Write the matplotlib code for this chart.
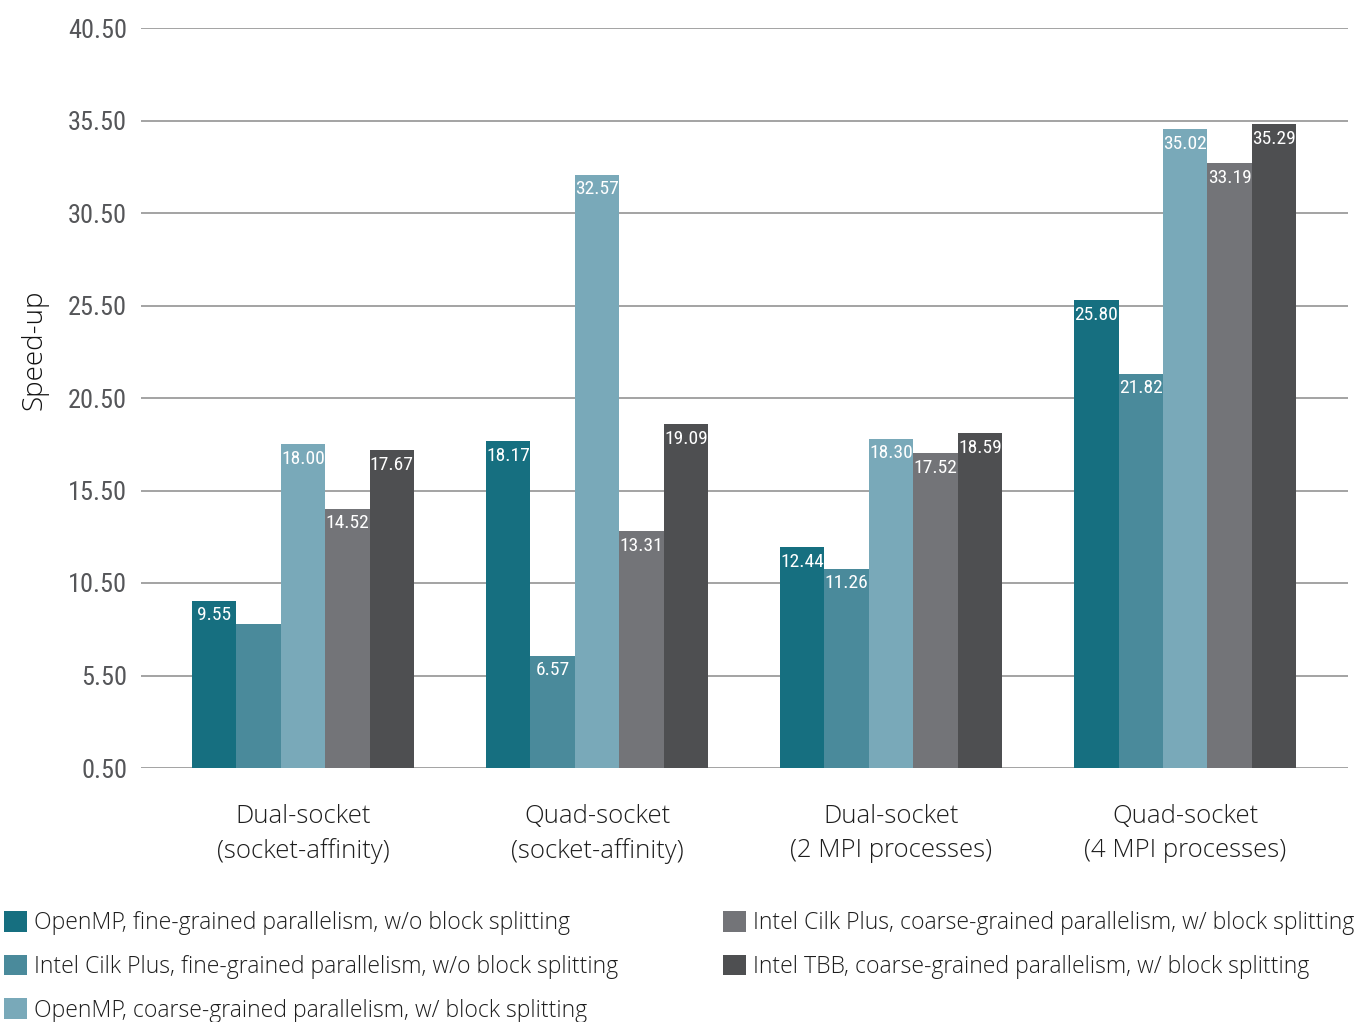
import numpy as np
import matplotlib
matplotlib.use("Agg")
import matplotlib.pyplot as plt
from matplotlib import font_manager

# Speed-up measured for each configuration and implementation
groups = ["Dual-socket\n(socket-affinity)", "Quad-socket\n(socket-affinity)",
          "Dual-socket\n(2 MPI processes)", "Quad-socket\n(4 MPI processes)"]
series = ["OpenMP, fine-grained parallelism, w/o block splitting",
          "Intel Cilk Plus, fine-grained parallelism, w/o block splitting",
          "OpenMP, coarse-grained parallelism, w/ block splitting",
          "Intel Cilk Plus, coarse-grained parallelism, w/ block splitting",
          "Intel TBB, coarse-grained parallelism, w/ block splitting"]
openmp_fine = [9.55, 18.17, 12.44, 25.80]
cilk_fine = [8.28, 6.57, 11.26, 21.82]
openmp_coarse = [18.00, 32.57, 18.30, 35.02]
cilk_coarse = [14.52, 13.31, 17.52, 33.19]
tbb_coarse = [17.67, 19.09, 18.59, 35.29]
# the dual-socket Cilk fine-grained bar carries no printed value
show_label = [[True, True, True, True],
              [False, True, True, True],
              [True, True, True, True],
              [True, True, True, True],
              [True, True, True, True]]
yticks = [0.5, 5.5, 10.5, 15.5, 20.5, 25.5, 30.5, 35.5, 40.5]

colors = ["#166f80", "#4a8a9b", "#79a9b9", "#737478", "#4e4f51"]

installed = {f.name for f in font_manager.fontManager.ttflist}
narrow = next((f for f in ["Roboto Condensed", "IBM Plex Sans Condensed", "PT Sans Narrow"]
               if f in installed), "Roboto")
text_font = "Open Sans"

fig = plt.figure(figsize=(13.6, 10.22), dpi=100)
ax = fig.add_axes([141 / 1360, 1 - 768 / 1022, 1207 / 1360, 740 / 1022])

values = [openmp_fine, cilk_fine, openmp_coarse, cilk_coarse, tbb_coarse]
x = np.arange(len(groups))
width = 0.151
base = 0.5
for i, (vals, col, name) in enumerate(zip(values, colors, series)):
    pos = x + (i - 2) * width
    heights = np.array(vals) - base
    bars = ax.bar(pos, heights, width, bottom=base, color=col, label=name, zorder=3)
    for b, v, show in zip(bars, vals, show_label[i]):
        if show:
            ax.text(b.get_x() + b.get_width() / 2, v - 0.3, f"{v:.2f}",
                    ha="center", va="top", color="white", fontsize=14,
                    family=narrow, zorder=4)

ax.set_xlim(-0.551, 3.554)
ax.set_ylim(0.5, 40.5)
ax.set_yticks(yticks)
ax.set_yticklabels([f"{t:.2f}" for t in yticks], family=narrow, fontsize=19, color="#555659")
ax.yaxis.grid(True, color="#8a8a8a", linewidth=1.1, zorder=0)
ax.tick_params(axis="y", length=0, pad=10)
ax.tick_params(axis="x", length=0, pad=26)
ax.set_xticks(x)
ax.set_xticklabels(groups, family=text_font, fontweight="light", fontsize=18.5,
                   color="#1e1e1e", linespacing=1.45)
for s in ax.spines.values():
    s.set_visible(False)
ax.set_ylabel("Speed-up", family=text_font, fontweight="light", fontsize=20,
              color="#111111")
ax.yaxis.set_label_coords(-0.077, (350 - 768) / -740)

fig.legend(loc="upper left", bbox_to_anchor=(-0.004, 1 - 902 / 1022), ncol=2,
           frameon=False, prop={"family": text_font, "weight": "light", "size": 16.6},
           handlelength=1.0, handleheight=1.0, handletextpad=0.3,
           labelspacing=0.84, columnspacing=4.55, borderaxespad=0.0, labelcolor="#1e1e1e")

fig.savefig("out.png", dpi=100)
